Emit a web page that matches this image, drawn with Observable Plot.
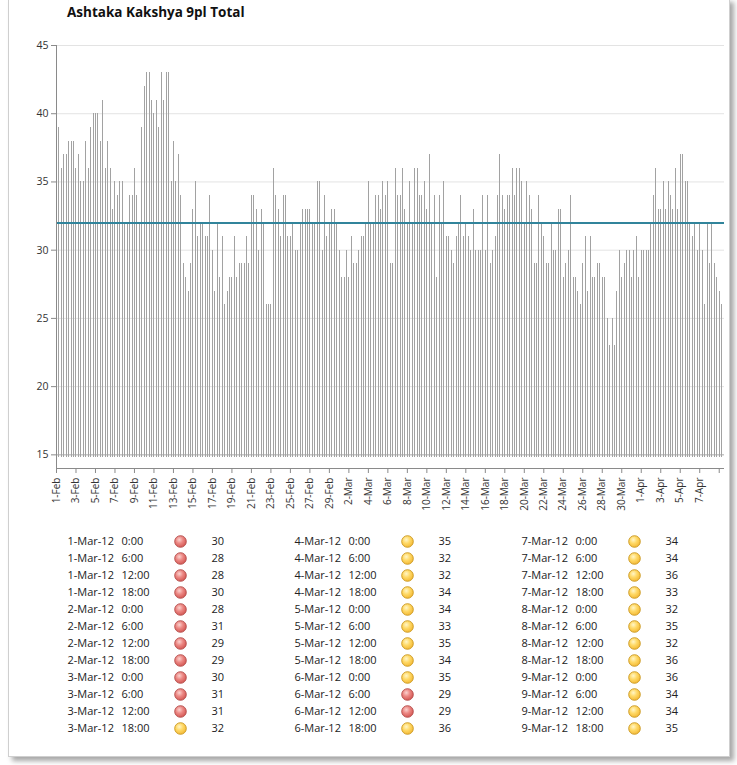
<!DOCTYPE html>
<html><head><meta charset="utf-8">
<script src="https://cdn.jsdelivr.net/npm/d3@7"></script>
<script src="https://cdn.jsdelivr.net/npm/@observablehq/plot@0.6"></script>
<style>
body{margin:0;background:#fff;font-family:"Open Sans",sans-serif;}
#frame{position:absolute;left:8px;top:-2px;width:720px;height:757px;border:1px solid #cfcfcf;box-shadow:4px 4px 5px rgba(0,0,0,0.35);background:#fff;}
#title{position:absolute;left:67px;top:3px;font:bold 13.5px "Open Sans",sans-serif;color:#111;}
#chart{position:absolute;left:0;top:0;}
#table{position:absolute;left:0;top:525px;}
</style></head><body>
<div id="frame"></div>
<div id="title"></div>
<div id="chart"></div>
<div id="table"></div>
<script>
const title = "Ashtaka Kakshya 9pl Total";
// 6-hourly values, 1-Feb-2012 0:00 onward
const febValues = [39,39,36,37,37,38,38,38,36,37,35,35,38,36,39,40,40,40,38,41,36,38,36,33,35,34,35,35,32,32,34,34,36,34,32,39,42,43,43,41,40,41,39,43,41,43,43,
  35,38,35,37,34,29,28,27,29,33,35,31,32,32,31,31,34,30,27,32,28,31,26,27,28,28,31,28,29,29,29,31,
  29,34,34,33,30,33,32,26,26,26,36,34,33,31,34,34,31,31,32,30,30,32,33,33,33,33,32,32,35,35,30,34,31,32,
  33,33,32];
const marValues = [30,28,28,30,28,31,29,29,30,31,31,32,35,32,32,34,34,33,35,34,35,29,29,36,34,34,36,33,32,35,32,36,36,34,34,35,
  33,37,32,34,28,34,32,35,31,31,30,29,31,32,34,31,32,31,30,33,30,30,30,34,30,34,29,30,31,
  34,37,34,33,34,34,36,34,36,36,35,32,35,34,33,29,29,34,32,31,29,29,32,30,30,33,33,28,29,30,34,28,28,27,
  26,29,31,27,31,28,28,29,29,28,28,25,23,25,23,27,30,28,29,30,30,28,30,31,28];
const aprValues = [30,30,30,30,32,34,36,33,33,35,33,35,34,33,36,33,37,37,35,35,32,31,32,30,32,30,26,32,29,32,29,28,27,26];
const xTickLabels = ["1-Feb","3-Feb","5-Feb","7-Feb","9-Feb","11-Feb","13-Feb","15-Feb","17-Feb","19-Feb","21-Feb","23-Feb","25-Feb","27-Feb","29-Feb",
  "2-Mar","4-Mar","6-Mar","8-Mar","10-Mar","12-Mar","14-Mar","16-Mar","18-Mar","20-Mar","22-Mar","24-Mar","26-Mar","28-Mar","30-Mar",
  "1-Apr","3-Apr","5-Apr","7-Apr"];
const xExtraTicks = ["9-Apr"];
const yTicks = [15,20,25,30,35,40,45];
const meanValue = 32;
const tableRowsPerColumn = 12;
const tableCount = 36;

document.getElementById("title").textContent = title;

const start = Date.UTC(2012,1,1);
const stepMs = 6*3600e3;
const values = [...febValues, ...marValues, ...aprValues];
const data = values.map((v,i)=>({date:new Date(start + i*stepMs), value:v}));
const parseDay = d3.utcParse("%d-%b-%Y");
const toDate = s => parseDay(s + "-2012");
const tickDates = xTickLabels.map(toDate);
const labelMap = new Map(xTickLabels.map((s,i)=>[+tickDates[i], s]));
const extraDates = xExtraTicks.map(toDate);

const chart = Plot.plot({
  width: 737, height: 535,
  marginLeft: 56, marginRight: 13, marginTop: 45, marginBottom: 67,
  x: {type:"utc", domain:[new Date(start), new Date(Date.UTC(2012,3,9,13))]},
  y: {domain:[14,45]},
  style: {fontFamily:"'Open Sans', sans-serif", fontSize:"10px", color:"#333", background:"transparent"},
  marks: [
    Plot.ruleY(yTicks.filter(t=>t>15), {stroke:"#e3e3e3"}),
    Plot.ruleY([15], {stroke:"#a8a8a8"}),
    Plot.ruleX(data, {x:"date", y1:14.8, y2:"value", stroke:"#a2a2a2", strokeWidth:1, shapeRendering:"crispEdges"}),
    Plot.ruleY([meanValue], {stroke:"#31849b", strokeWidth:2}),
    Plot.ruleY([14], {stroke:"#8a8a8a"}),
    Plot.ruleX([new Date(start)], {y1:14, y2:45, stroke:"#8a8a8a"}),
    Plot.axisY({ticks:yTicks, tickSize:5, tickPadding:3, fontSize:10.5, label:null, stroke:"#8a8a8a"}),
    Plot.axisX({ticks:tickDates, tickFormat:d=>labelMap.get(+d), tickRotate:-90, tickSize:5, tickPadding:4, label:null, stroke:"#8a8a8a"}),
    Plot.axisX({ticks:extraDates, tickFormat:()=>"", tickSize:5, label:null, stroke:"#8a8a8a"})
  ]
});
document.getElementById("chart").append(chart);

// table of first March readings
const fmtMon = d3.utcFormat("%b-%y");
const tableData = marValues.slice(0, tableCount).map((v,i)=>{
  const d = new Date(Date.UTC(2012,2,1) + i*stepMs);
  return {col: Math.floor(i/tableRowsPerColumn), row: i%tableRowsPerColumn,
    day: `${d.getUTCDate()}-${fmtMon(d)}`, time: `${d.getUTCHours()}:00`, value: v, low: v < meanValue};
});
const tableFont = "11px 'Open Sans'";
const ctx = document.createElement("canvas").getContext("2d");
ctx.font = tableFont;
const dayWidth = Math.max(...tableData.map(d=>ctx.measureText(d.day).width));
const timeDx = Math.ceil(dayWidth) + 7;

const table = Plot.plot({
  width: 737, height: 220, margin: 0,
  x: {type:"linear", domain:[0,3], range:[67,748], axis:null},
  y: {type:"linear", domain:[0,11], range:[16,203], axis:null},
  style: {fontFamily:"'Open Sans', sans-serif", fontSize:"11px", color:"#222", background:"transparent"},
  marks: [
    Plot.text(tableData, {x:"col", y:"row", text:"day", textAnchor:"start", fill:"#222"}),
    Plot.text(tableData, {x:"col", y:"row", text:"time", textAnchor:"start", dx:timeDx, fill:"#222"}),
    Plot.dot(tableData.filter(d=>d.low), {x:"col", y:"row", dx:113, r:5.8, fill:"url(#gRed)", stroke:"#b34a47", strokeWidth:0.9}),
    Plot.dot(tableData.filter(d=>!d.low), {x:"col", y:"row", dx:113, r:5.8, fill:"url(#gYel)", stroke:"#c9961c", strokeWidth:0.9}),
    Plot.text(tableData, {x:"col", y:"row", text:"value", textAnchor:"start", dx:144, fill:"#222"})
  ]
});
const defs = d3.select(table).insert("defs", ":first-child");
function grad(id, stops){
  const g = defs.append("radialGradient").attr("id", id).attr("cx","40%").attr("cy","35%").attr("r","70%");
  stops.forEach(([o,c])=>g.append("stop").attr("offset",o).attr("stop-color",c));
}
grad("gRed", [["0%","#fbd2cf"],["45%","#ec8783"],["100%","#d0524e"]]);
grad("gYel", [["0%","#fff6c8"],["45%","#ffd966"],["100%","#f2b530"]]);
document.getElementById("table").append(table);
</script>
</body></html>
